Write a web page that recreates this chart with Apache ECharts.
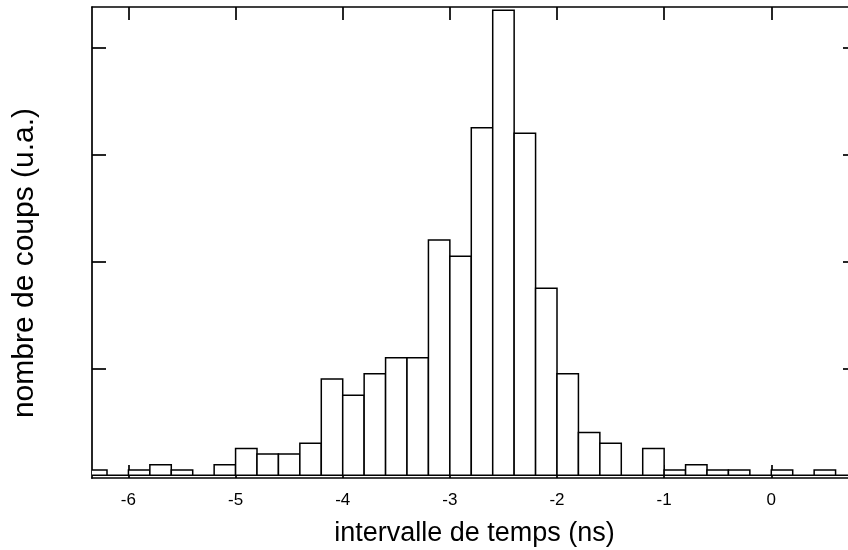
<!DOCTYPE html>
<html><head><meta charset="utf-8">
<script src="https://cdn.jsdelivr.net/npm/echarts@6/dist/echarts.min.js"></script>
<style>html,body{margin:0;padding:0;background:#fff}#c{width:848px;height:550px}</style>
</head><body><div id="c"></div>
<script>
// bin left edges (ns), bin width 0.2 ns
var binStarts = [-6.4,-6.2,-6.0,-5.8,-5.6,-5.4,-5.2,-5.0,-4.8,-4.6,-4.4,-4.2,-4.0,-3.8,-3.6,-3.4,-3.2,-3.0,-2.8,-2.6,-2.4,-2.2,-2.0,-1.8,-1.6,-1.4,-1.2,-1.0,-0.8,-0.6,-0.4,-0.2,0.0,0.2,0.4,0.6];
var binWidth = 0.2;
var counts = [1,0,1,2,1,0,2,5,4,4,6,18,15,19,22,22,44,41,65,87,64,35,19,8,6,0,5,1,2,1,1,0,1,0,1,0];
var xTicks = [-6,-5,-4,-3,-2,-1,0];
var yTicks = [20,40,60,80];
var xTitle = 'intervalle de temps (ns)';
var yTitle = 'nombre de coups (u.a.)';

var data = binStarts.map(function(s,i){ return [s, s+binWidth, counts[i]]; });
var font = 'Liberation Sans, Arial, Helvetica, sans-serif';
var chart = echarts.init(document.getElementById('c'), null, {renderer:'canvas'});
var axisLine = {show:true, onZero:false, lineStyle:{color:'#000', width:1.7}};
chart.setOption({
  animation:false,
  backgroundColor:'#fff',
  grid:{left:92, right:-9, top:7, bottom:72, containLabel:false, outerBoundsMode:'none'},
  xAxis:[{
    type:'value', min:-6.34, max:0.8, position:'bottom',
    axisLine:axisLine,
    axisTick:{show:true, inside:true, length:13, customValues:xTicks, lineStyle:{color:'#000', width:1.7}},
    axisLabel:{show:true, customValues:xTicks, color:'#000', fontFamily:font, fontSize:17, margin:14,
      formatter:function(v){return String(v);} },
    splitLine:{show:false},
    name:xTitle, nameLocation:'middle', nameGap:42,
    nameTextStyle:{color:'#000', fontFamily:font, fontSize:27}
  },{
    type:'value', min:-6.34, max:0.8, position:'top',
    axisLine:axisLine,
    axisTick:{show:true, inside:true, length:13, customValues:xTicks, lineStyle:{color:'#000', width:1.7}},
    axisLabel:{show:false}, splitLine:{show:false}
  }],
  yAxis:[{
    type:'value', min:-0.5, max:87.6, position:'left',
    axisLine:axisLine,
    axisTick:{show:true, inside:true, length:14, customValues:yTicks, lineStyle:{color:'#000', width:1.7}},
    axisLabel:{show:false}, splitLine:{show:false}
  },{
    type:'value', min:-0.5, max:87.6, position:'right',
    axisLine:axisLine,
    axisTick:{show:true, inside:true, length:14, customValues:yTicks, lineStyle:{color:'#000', width:1.7}},
    axisLabel:{show:false}, splitLine:{show:false}
  }],
  graphic:[{
    type:'text', x:25, y:263, rotation:Math.PI/2,
    style:{text:yTitle, fill:'#000', font:'30px ' + font, textAlign:'center', textVerticalAlign:'middle'}
  }],
  series:[{
    type:'custom',
    xAxisIndex:0, yAxisIndex:0,
    clip:true,
    data:data,
    encode:{x:[0,1], y:2},
    renderItem:function(params, api){
      var p0 = api.coord([api.value(0), 0]);
      var p1 = api.coord([api.value(1), api.value(2)]);
      return {
        type:'rect',
        shape:{x:p0[0], y:p1[1], width:p1[0]-p0[0], height:p0[1]-p1[1]},
        style:{fill:'#fff', stroke:'#000', lineWidth:1.5}
      };
    }
  }]
});
</script>
</body></html>
